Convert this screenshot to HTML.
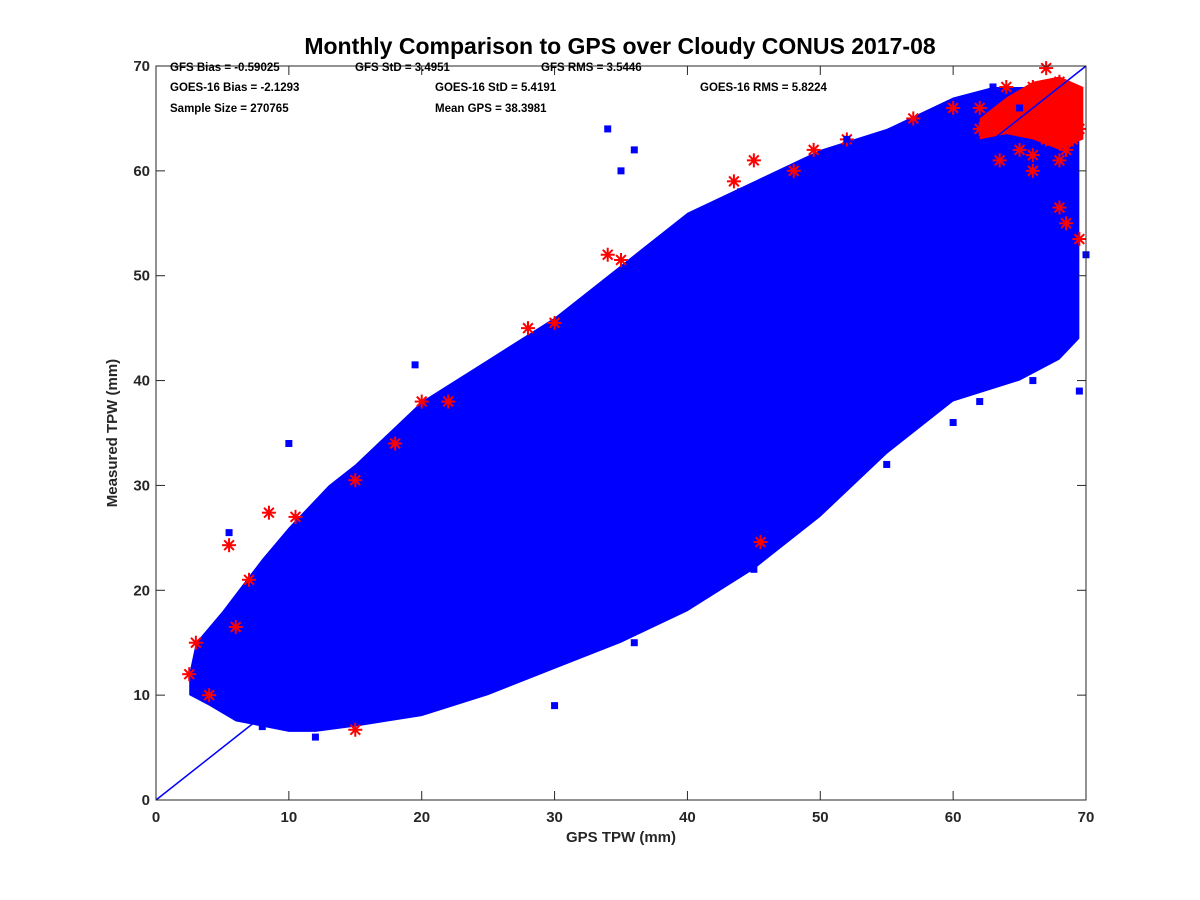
<!DOCTYPE html>
<html><head><meta charset="utf-8"><style>
body{margin:0;background:#fff;}
svg{display:block;font-family:"Liberation Sans",sans-serif;}
</style></head><body>
<svg id="chart" width="1200" height="900">
<text x="620" y="54" text-anchor="middle" font-size="23" font-weight="bold">Monthly Comparison to GPS over Cloudy CONUS 2017-08</text>
</svg>
<script>
const xTicks=[0,10,20,30,40,50,60,70];
const yTicks=[0,10,20,30,40,50,60,70];
// blue envelope (GPS x, measured y)
const upperX=[2.5,3,5,8,10,13,15,20,25,30,35,40,45,50,55,60,63,66,69.5];
const upperY=[12,15,18,23,26,30,32,38,42,46,51,56,59,62,64,67,68,68,64];
const lowerX=[69.5,68,65,60,55,50,45,40,35,30,25,20,15,12,10,8,6,4,2.5];
const lowerY=[44,42,40,38,33,27,22,18,15,12.5,10,8,7,6.5,6.5,7,7.5,9,10];
// blue outlier squares
const blueX=[5.5,10,19.5,27,34,35,36,44,52,63,65,66,69.5,62,60,57,55,47,45,36,33,12,8,70,68,67,30];
const blueY=[25.5,34,41.5,43,64,60,62,58,63,68,66,40,39,38,36,36,32,27,22,15,17,6,7,52,50,55,9];
// red asterisks
const redX=[5.5,8.5,10.5,15,18,20,22,28,30,34,35,43.5,45,48,49.5,52,57,60,62,64,66,67,68,69,69.5,63,65,66,67,68,69,62,64,68,68.5,69.5,45.5,15,3,2.5,4,6,7,65,67,69,63.5,66,68.5];
const redY=[24.3,27.4,27,30.5,34,38,38,45,45.5,52,51.5,59,61,60,62,63,65,66,66,68,68,69.8,68.5,66,64,64,62,60,63,61,67,64,66,56.5,55,53.5,24.6,6.7,15,12,10,16.5,21,65,66,63,61,61.5,62];
const redBlobX=[62,64,66,68,69.8,69.8,68,66,64,62];
const redBlobY=[65,67,68.5,69,68,63,62,63,63.5,63];

const svg=document.getElementById('chart');
const NS='http://www.w3.org/2000/svg';
const X0=156,X1=1086,Y0=800,Y1=66;
const sx=v=>X0+(X1-X0)*v/70;
const sy=v=>Y0-(Y0-Y1)*v/70;
function mk(t,a){const e=document.createElementNS(NS,t);for(const k in a)e.setAttribute(k,a[k]);svg.appendChild(e);return e;}

let pts=upperX.map((x,i)=>sx(x)+','+sy(upperY[i])).concat(lowerX.map((x,i)=>sx(x)+','+sy(lowerY[i])));
let band=mk('polygon',{points:pts.join(' '),fill:'#0000ff'});



let rb=mk('polygon',{points:redBlobX.map((x,i)=>sx(x)+','+sy(redBlobY[i])).join(' '),fill:'#ff0000'});


redX.forEach((x,i)=>{
  const g=mk('g',{stroke:'#ff0000','stroke-width':2});
  
  
  const cx=sx(x),cy=sy(redY[i]),r=7;
  [[r,0],[0,r],[r*0.7,r*0.7],[r*0.7,-r*0.7]].forEach(d=>{
    const l=document.createElementNS(NS,'line');
    l.setAttribute('x1',cx-d[0]);l.setAttribute('y1',cy-d[1]);l.setAttribute('x2',cx+d[0]);l.setAttribute('y2',cy+d[1]);g.appendChild(l);});
});
blueX.forEach((x,i)=>{
  const r=mk('rect',{x:sx(x)-3.5,y:sy(blueY[i])-3.5,width:7,height:7,fill:'#0000ff'});
  
  
});
let oneone=mk('line',{x1:sx(0),y1:sy(0),x2:sx(70),y2:sy(70),stroke:'#0000ff','stroke-width':1.5});



let box=mk('rect',{x:X0,y:Y1,width:X1-X0,height:Y0-Y1,fill:'none',stroke:'#262626','stroke-width':1});


xTicks.forEach(v=>{
  mk('line',{x1:sx(v),x2:sx(v),y1:Y0,y2:Y0-9,stroke:'#262626'});
  mk('line',{x1:sx(v),x2:sx(v),y1:Y1,y2:Y1+9,stroke:'#262626'});
  const t=mk('text',{x:sx(v),y:Y0+22,'text-anchor':'middle','font-size':15,'font-weight':'bold',fill:'#262626'});
  t.textContent=v;
  
  
});
yTicks.forEach(v=>{
  mk('line',{x1:X0,x2:X0+9,y1:sy(v),y2:sy(v),stroke:'#262626'});
  mk('line',{x1:X1,x2:X1-9,y1:sy(v),y2:sy(v),stroke:'#262626'});
  const t=mk('text',{x:X0-6,y:sy(v)+5,'text-anchor':'end','font-size':15,'font-weight':'bold',fill:'#262626'});
  t.textContent=v;
  
  
});
let xl=mk('text',{x:621,y:842,'text-anchor':'middle','font-size':15,'font-weight':'bold',fill:'#262626'});
xl.textContent='GPS TPW (mm)';


let yl=mk('text',{x:117,y:433,'text-anchor':'middle','font-size':15,'font-weight':'bold',fill:'#262626',transform:'rotate(-90 117 433)'});
yl.textContent='Measured TPW (mm)';


const statText=['GFS Bias = -0.59025','GFS StD = 3.4951','GFS RMS = 3.5446','GOES-16 Bias = -2.1293','GOES-16 StD = 5.4191','GOES-16 RMS = 5.8224','Sample Size = 270765','Mean GPS = 38.3981'];
const statPos=[[170,71],[355,71],[541,71],[170,91],[435,91],[700,91],[170,112],[435,112]];
statText.forEach((s,i)=>{
  const t=mk('text',{x:statPos[i][0],y:statPos[i][1],'font-size':11.5,'font-weight':'bold',fill:'#000'});
  t.textContent=s;
  
  
});
</script>
</body></html>
